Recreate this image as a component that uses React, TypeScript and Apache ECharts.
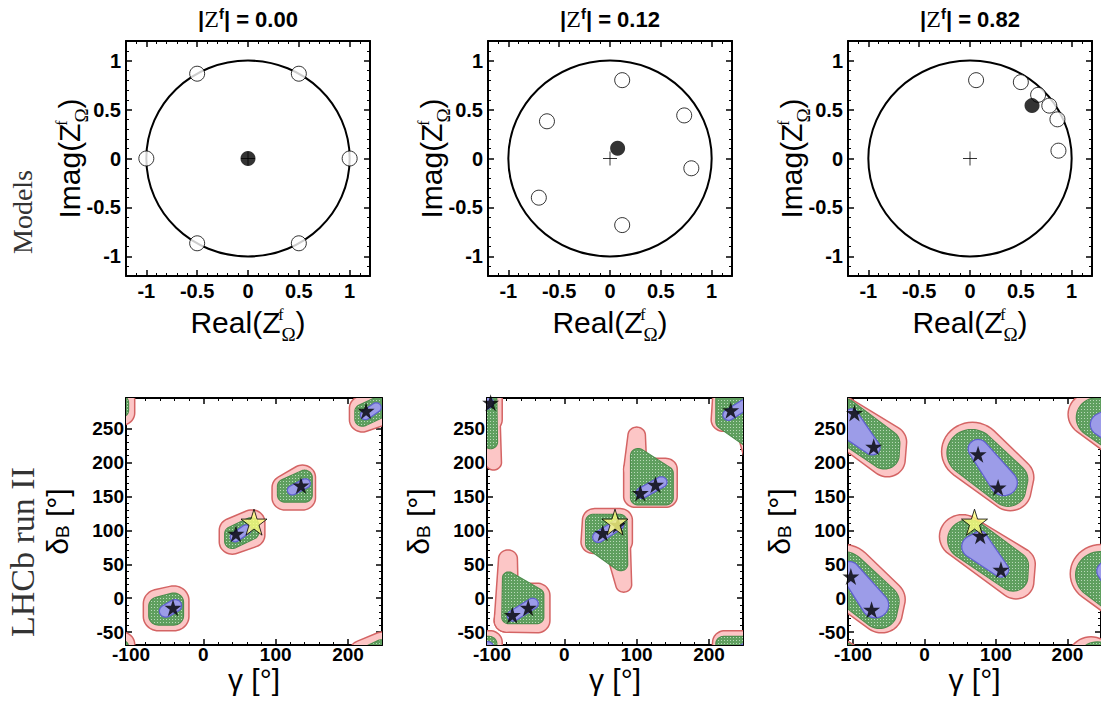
import React, { useEffect, useRef } from 'react';
import * as echarts from 'echarts';

type Node = [number, number, number]; // gamma, delta, radius (deg)
type Piece = Node[];
interface Blob { pink: Piece[]; green: Piece[]; blue: Piece[] }

// ---------- top row data ----------
const TITLES = ['0.00', '0.12', '0.82'];
const UNIT_CIRCLE = [[0, 0, 1]];
const OPEN_1 = [[1, 0], [0.5, 0.866], [-0.5, 0.866], [-1, 0], [-0.5, -0.866], [0.5, -0.866]];
const FILLED_1 = [[0, 0]];
const CROSS_1 = [[0, 0]];
const OPEN_2 = [[0.12, 0.8], [0.73, 0.44], [0.8, -0.1], [0.12, -0.68], [-0.7, -0.4], [-0.62, 0.38]];
const FILLED_2 = [[0.075, 0.105]];
const CROSS_2 = [[0, 0]];
const OPEN_3 = [[0.06, 0.8], [0.5, 0.78], [0.67, 0.65], [0.78, 0.54], [0.86, 0.4], [0.87, 0.08]];
const FILLED_3 = [[0.61, 0.54]];
const CROSS_3 = [[0, 0]];
const TOP_MAJOR = [-1, -0.5, 0, 0.5, 1];
const TOP_RANGE = [-1.2, 1.2];

// ---------- bottom row data ----------
const GAMMA_RANGE = [-107, 247];
const DELTA_RANGE = [-69, 295];
const GAMMA_MAJOR = [-100, 0, 100, 200];
const DELTA_MAJOR = [-50, 0, 50, 100, 150, 200, 250];
const YELLOW_STAR = [[70, 112]];

const BLOBS_1: Blob[] = [
  { pink: [[[-62, -27, 20], [-41, -27, 20], [-62, -8, 20], [-41, -3, 20]]],
    green: [[[-62, -26, 13], [-41, -26, 13], [-62, -12, 13], [-41, -6, 13]]],
    blue: [[[-52, -19, 8], [-39, -11, 8]]] },
  { pink: [[[40, 83, 17], [67, 93, 17], [67, 112, 17], [40, 100, 17]]],
    green: [[[40, 84, 10], [66, 97, 10], [66, 108, 10], [40, 95, 10]]],
    blue: [[[44, 90, 6], [59, 101, 6]]] },
  { pink: [[[113, 148, 17], [137, 148, 17], [113, 163, 17], [137, 178, 17]]],
    green: [[[113, 152, 10], [140, 152, 10], [113, 165, 10], [140, 178, 10]]],
    blue: [[[123, 159, 6], [141, 169, 6]]] },
  { pink: [[[220, 263, 17], [247, 273, 17], [247, 292, 17], [220, 280, 17]]],
    green: [[[220, 264, 10], [246, 277, 10], [246, 288, 10], [220, 275, 10]]],
    blue: [[[224, 270, 6], [239, 281, 6]]] },
];
const STARS_1 = [[-42, -14], [45, 95], [135, 166], [225, 276]];

const BLOBS_2: Blob[] = [
  { pink: [[[-78, 58, 12], [-80, -33, 16]], [[-80, -33, 16], [-38, -33, 17], [-38, 4, 17], [-72, 4, 17]]],
    green: [[[-77, 30, 8], [-77, -28, 9], [-38, -28, 9], [-38, 5, 9]]],
    blue: [[[-71, -26, 7], [-44, -8, 7]]] },
  { pink: [[[40, 83, 16], [77, 83, 16], [77, 115, 16], [42, 115, 16]], [[72, 88, 18], [82, 20, 10]]],
    green: [[[40, 80, 10], [40, 113, 10], [76, 113, 10], [78, 50, 9]]],
    blue: [[[47, 90, 7], [74, 108, 7]]] },
  { pink: [[[100, 240, 11], [98, 190, 15]], [[98, 190, 15], [98, 150, 15], [140, 150, 15], [140, 190, 15]]],
    green: [[[102, 210, 10], [102, 148, 10], [140, 148, 10], [140, 184, 10]]],
    blue: [[[107, 155, 7], [134, 171, 7]]] },
  { pink: [[[220, 263, 16], [257, 263, 16], [257, 295, 16], [222, 295, 16]], [[252, 268, 18], [262, 200, 10]]],
    green: [[[220, 260, 10], [220, 293, 10], [256, 293, 10], [258, 230, 9]]],
    blue: [[[227, 270, 7], [254, 288, 7]]] },
];
const STARS_2 = [[-72, -25], [-50, -14], [53, 96], [74, 108], [105, 155], [126, 167], [230, 277], [-102, 288]];

const BLOBS_3: Blob[] = [
  { pink: [[[67, 216, 42], [124, 178, 28], [120, 158, 28]]],
    green: [[[66, 214, 34], [120, 175, 24], [117, 160, 24]]],
    blue: [[[75, 220, 13], [111, 170, 18]]] },
  { pink: [[[53, 91, 31], [130, 50, 24], [128, 24, 24]]],
    green: [[[62, 86, 29], [125, 48, 20], [124, 31, 20]]],
    blue: [[[69, 76, 16], [78, 90, 8], [107, 42, 10]]] },
  { pink: [[[-113, 36, 42], [-56, -2, 28], [-60, -22, 28]]],
    green: [[[-114, 34, 34], [-60, -5, 24], [-63, -20, 24]]],
    blue: [[[-105, 40, 13], [-69, -10, 18]]] },
  { pink: [[[-127, 271, 31], [-50, 230, 24], [-52, 204, 24]]],
    green: [[[-118, 266, 29], [-55, 228, 20], [-56, 211, 20]]],
    blue: [[[-111, 256, 16], [-102, 270, 8], [-73, 222, 10]]] },
];
const STARS_3 = [[-98, 273], [-71, 223], [75, 212], [103, 163], [78, 92], [107, 42], [-103, 32], [-74, -17]];

// ---------- styles ----------
const SANS = '"Liberation Sans", Arial, Helvetica, sans-serif';
const SERIF = '"Liberation Serif", "Times New Roman", serif';
const PINK_FILL = '#fcc6c6';
const PINK_EDGE = '#d46464';
const GREEN_FILL = '#5f9f5f';
const GREEN_DOT = '#b9dab9';
const GREEN_EDGE = '#4a8a4a';
const BLUE_FILL = '#9c9ce8';
const BLUE_EDGE = '#6060d0';
const STAR_PATH = 'path://M50,0L61.2,34.5L97.6,34.5L68.2,55.9L79.4,90.5L50,69.1L20.6,90.5L31.8,55.9L2.4,34.5L38.8,34.5Z';
const CROSS_PATH = 'path://M0,10L20,10M10,0L10,20';

const TOP_GRIDS = [
  { left: 126, top: 41, width: 244, height: 235 },
  { left: 488, top: 41, width: 244, height: 235 },
  { left: 848, top: 41, width: 244, height: 235 },
];
const BOT_GRIDS = [
  { left: 126, top: 398, width: 256, height: 247 },
  { left: 487, top: 398, width: 256, height: 247 },
  { left: 848, top: 398, width: 256, height: 247 },
];

function steps(from: number, to: number, step: number, skip: number[]) {
  const out: number[] = [];
  for (let v = from; v <= to + 1e-9; v += step) {
    const r = Math.round(v * 1000) / 1000;
    if (!skip.some((s) => Math.abs(s - r) < 1e-6)) out.push(r);
  }
  return out;
}

function makeAxes(dim: 'x' | 'y', gridIndex: number, range: number[], majors: number[], minors: number[], label: any, nameCfg: any) {
  const posMain = dim === 'x' ? 'bottom' : 'left';
  const posOpp = dim === 'x' ? 'top' : 'right';
  const line = { show: true, onZero: false, lineStyle: { color: '#000', width: 2 } };
  const base = { type: 'value', gridIndex, min: range[0], max: range[1], splitLine: { show: false } };
  const majorTick = { show: true, inside: true, length: 6, customValues: majors, lineStyle: { color: '#000', width: 1.5 } };
  const minorTick = { show: true, inside: true, length: 3, customValues: minors, lineStyle: { color: '#000', width: 1 } };
  return [
    { ...base, position: posMain, axisLine: line, axisTick: majorTick, axisLabel: { show: true, customValues: majors, ...label }, nameMoveOverlap: false, ...nameCfg },
    { ...base, position: posOpp, axisLine: line, axisTick: majorTick, axisLabel: { show: false } },
    { ...base, position: posMain, axisLine: { show: false, onZero: false }, axisTick: minorTick, axisLabel: { show: false } },
    { ...base, position: posOpp, axisLine: { show: false, onZero: false }, axisTick: minorTick, axisLabel: { show: false } },
  ];
}

function convexHull(points: number[][]) {
  const p = points.slice().sort((a, b) => (a[0] - b[0]) || (a[1] - b[1]));
  const cross = (o: number[], a: number[], b: number[]) => (a[0] - o[0]) * (b[1] - o[1]) - (a[1] - o[1]) * (b[0] - o[0]);
  const lower: number[][] = [];
  for (const pt of p) {
    while (lower.length >= 2 && cross(lower[lower.length - 2], lower[lower.length - 1], pt) <= 0) lower.pop();
    lower.push(pt);
  }
  const upper: number[][] = [];
  for (let i = p.length - 1; i >= 0; i--) {
    const pt = p[i];
    while (upper.length >= 2 && cross(upper[upper.length - 2], upper[upper.length - 1], pt) <= 0) upper.pop();
    upper.push(pt);
  }
  upper.pop();
  lower.pop();
  return lower.concat(upper);
}

function hullOfCircles(api: any, piece: Piece, dx: number, dy: number) {
  const pts: number[][] = [];
  for (const [g, d, r] of piece) {
    const c = api.coord([g + dx, d + dy]);
    const rp = Math.abs(api.size([r, 0])[0]);
    const rq = Math.abs(api.size([0, r])[1]);
    for (let k = 0; k < 48; k++) {
      const a = (k / 48) * Math.PI * 2;
      pts.push([c[0] + rp * Math.cos(a), c[1] + rq * Math.sin(a)]);
    }
  }
  return convexHull(pts);
}

const SHIFTS = [-360, 0, 360];

function layerSeries(idx: number, pieces: Piece[], style: any) {
  return {
    type: 'custom',
    xAxisIndex: idx,
    yAxisIndex: idx,
    clip: true,
    silent: true,
    data: pieces.map((_, i) => [i, 0]),
    renderItem: (params: any, api: any) => {
      const piece = pieces[params.dataIndex];
      const children: any[] = [];
      for (const dx of SHIFTS) {
        for (const dy of SHIFTS) {
          children.push({ type: 'polygon', shape: { points: hullOfCircles(api, piece, dx, dy) }, style });
        }
      }
      return { type: 'group', children };
    },
  };
}

function makeGreenPattern(): any {
  try {
    const c = document.createElement('canvas');
    c.width = 3;
    c.height = 3;
    const ctx = c.getContext('2d');
    if (!ctx) return GREEN_FILL;
    ctx.fillStyle = GREEN_FILL;
    ctx.fillRect(0, 0, 3, 3);
    ctx.fillStyle = GREEN_DOT;
    ctx.fillRect(1, 1, 1, 1);
    return { image: c, repeat: 'repeat' };
  } catch (e) {
    return GREEN_FILL;
  }
}

const nameRich = {
  n: { fontSize: 30, fontFamily: SANS, color: '#000', lineHeight: 44 },
  sup: { fontSize: 16, fontFamily: SERIF, color: '#000', verticalAlign: 'top', lineHeight: 16, padding: [6, 0, 0, 0], width: 1 },
  sub: { fontSize: 19, fontFamily: SERIF, color: '#000', verticalAlign: 'bottom', lineHeight: 20 },
};
const botRich = {
  n: { fontSize: 30, fontFamily: SANS, color: '#000', lineHeight: 30 },
  sub: { fontSize: 19, fontFamily: SANS, color: '#000', verticalAlign: 'bottom', lineHeight: 15 },
};

function buildOption() {
  const xAxis: any[] = [];
  const yAxis: any[] = [];
  const series: any[] = [];
  const grid: any[] = [...TOP_GRIDS, ...BOT_GRIDS];
  const greenFill = makeGreenPattern();

  const topMinor = steps(-1.2, 1.2, 0.1, TOP_MAJOR);
  const gMinor = steps(-100, 240, 20, GAMMA_MAJOR);
  const dMinor = steps(-60, 290, 10, DELTA_MAJOR);

  const topLabel = { color: '#000', fontWeight: 'bold', fontSize: 20, fontFamily: SANS, margin: 5 };
  const botXLabel = { color: '#000', fontWeight: 'bold', fontSize: 19, fontFamily: SANS, margin: 1, lineHeight: 17 };
  const botYLabel = { color: '#000', fontWeight: 'bold', fontSize: 19, fontFamily: SANS, margin: 2 };

  const tops = [
    { open: OPEN_1, filled: FILLED_1, cross: CROSS_1 },
    { open: OPEN_2, filled: FILLED_2, cross: CROSS_2 },
    { open: OPEN_3, filled: FILLED_3, cross: CROSS_3 },
  ];
  tops.forEach((t, g) => {
    xAxis.push(...makeAxes('x', g, TOP_RANGE, TOP_MAJOR, topMinor, topLabel, {
      name: '{n|Real(Z}{sup|f}{sub|Ω}{n|)}', nameLocation: 'middle', nameGap: 24,
      nameTextStyle: { rich: nameRich },
    }));
    yAxis.push(...makeAxes('y', g, TOP_RANGE, TOP_MAJOR, topMinor, topLabel, {
      name: '{n|Imag(Z}{sup|f}{sub|Ω}{n|)}', nameLocation: 'middle', nameGap: 35,
      nameTextStyle: { rich: nameRich },
    }));
    const ai = g * 4;
    series.push({
      type: 'custom', xAxisIndex: ai, yAxisIndex: ai, silent: true, data: UNIT_CIRCLE,
      renderItem: (params: any, api: any) => {
        const c = api.coord([api.value(0), api.value(1)]);
        const s = api.size([api.value(2), api.value(2)]);
        return { type: 'ellipse', shape: { cx: c[0], cy: c[1], rx: Math.abs(s[0]), ry: Math.abs(s[1]) }, style: { fill: 'none', stroke: '#000', lineWidth: 2 } };
      },
    });
    series.push({ type: 'scatter', xAxisIndex: ai, yAxisIndex: ai, silent: true, data: t.cross, symbol: CROSS_PATH, symbolSize: 14, itemStyle: { color: 'none', borderColor: '#000', borderWidth: 1 } });
    series.push({ type: 'scatter', xAxisIndex: ai, yAxisIndex: ai, silent: true, data: t.open, symbol: 'circle', symbolSize: 15, itemStyle: { color: '#fff', borderColor: '#000', borderWidth: 1 } });
    series.push({ type: 'scatter', xAxisIndex: ai, yAxisIndex: ai, silent: true, data: t.filled, symbol: 'circle', symbolSize: 15, itemStyle: { color: '#000' } });
  });

  const bots = [
    { blobs: BLOBS_1, stars: STARS_1 },
    { blobs: BLOBS_2, stars: STARS_2 },
    { blobs: BLOBS_3, stars: STARS_3 },
  ];
  bots.forEach((b, k) => {
    const g = k + 3;
    xAxis.push(...makeAxes('x', g, GAMMA_RANGE, GAMMA_MAJOR, gMinor, botXLabel, {
      name: '{n|γ [°]}', nameLocation: 'middle', nameGap: 19,
      nameTextStyle: { rich: botRich },
    }));
    yAxis.push(...makeAxes('y', g, DELTA_RANGE, DELTA_MAJOR, dMinor, botYLabel, {
      name: '{n|δ}{sub|B}{n| [°]}', nameLocation: 'middle', nameGap: 54,
      nameTextStyle: { rich: botRich },
    }));
    const ai = g * 4;
    const pink = b.blobs.flatMap((x) => x.pink);
    const green = b.blobs.flatMap((x) => x.green);
    const blue = b.blobs.flatMap((x) => x.blue);
    series.push(layerSeries(ai, pink, { fill: PINK_FILL, stroke: PINK_EDGE, lineWidth: 3 }));
    series.push(layerSeries(ai, pink, { fill: PINK_FILL, stroke: 'none' }));
    series.push(layerSeries(ai, green, { fill: GREEN_FILL, stroke: GREEN_EDGE, lineWidth: 2 }));
    series.push(layerSeries(ai, green, { fill: greenFill, stroke: 'none' }));
    series.push(layerSeries(ai, blue, { fill: BLUE_FILL, stroke: BLUE_EDGE, lineWidth: 2.5 }));
    series.push(layerSeries(ai, blue, { fill: BLUE_FILL, stroke: 'none' }));
    series.push({ type: 'scatter', xAxisIndex: ai, yAxisIndex: ai, silent: true, clip: true, data: b.stars, symbol: STAR_PATH, symbolSize: 17, itemStyle: { color: '#000' } });
    series.push({ type: 'scatter', xAxisIndex: ai, yAxisIndex: ai, silent: true, clip: true, data: YELLOW_STAR, symbol: STAR_PATH, symbolSize: 26, itemStyle: { color: '#ffff80', borderColor: '#000', borderWidth: 1 } });
  });

  const graphic: any[] = TOP_GRIDS.map((gr, i) => ({
    type: 'text',
    x: gr.left + gr.width / 2,
    y: 19,
    style: {
      text: `{b||}{z|Z}{s|f}{b|| = ${TITLES[i]}}`,
      align: 'center',
      verticalAlign: 'middle',
      rich: {
        b: { fontSize: 22, fontWeight: 'bold', fontFamily: SANS, fill: '#000', lineHeight: 28 },
        z: { fontSize: 24, fontFamily: SERIF, fill: '#000', lineHeight: 28 },
        s: { fontSize: 15, fontWeight: 'bold', fontFamily: SANS, fill: '#000', verticalAlign: 'top', lineHeight: 15, padding: [1, 0, 0, 0] },
      },
    },
  }));
  graphic.push({
    type: 'text', x: 22, y: 212, rotation: Math.PI / 2,
    style: { text: 'Models', align: 'center', verticalAlign: 'middle', fontSize: 28, fontFamily: SERIF, fill: '#333' },
  });
  graphic.push({
    type: 'text', x: 22, y: 552, rotation: Math.PI / 2,
    style: { text: 'LHCb run II', align: 'center', verticalAlign: 'middle', fontSize: 34, fontFamily: SERIF, fill: '#333' },
  });

  return {
    animation: false,
    backgroundColor: '#fff',
    textStyle: { fontFamily: SANS },
    grid,
    xAxis,
    yAxis,
    series,
    graphic,
  };
}

export default function App() {
  const ref = useRef<HTMLDivElement>(null);
  useEffect(() => {
    if (!ref.current) return;
    const chart = echarts.init(ref.current, null, { renderer: 'svg' });
    chart.setOption(buildOption() as any);
    return () => chart.dispose();
  }, []);
  return <div ref={ref} style={{ position: 'absolute', left: 0, top: 0, width: 1101, height: 702, background: '#fff' }} />;
}
